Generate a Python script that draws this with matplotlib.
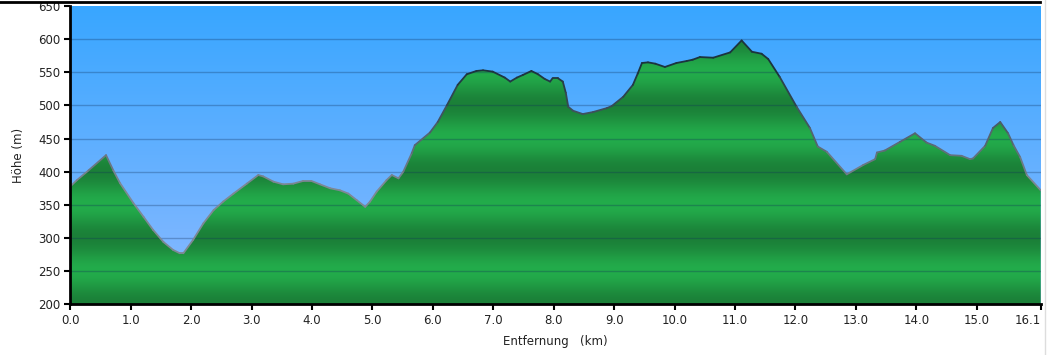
import numpy as np
import matplotlib
matplotlib.use("Agg")
import matplotlib.pyplot as plt
from matplotlib.patches import Polygon
from matplotlib.collections import LineCollection
from matplotlib.lines import Line2D

# ---- data ----
distance_km = [0.0, 0.104, 0.30, 0.59, 0.71, 0.82, 1.04, 1.21, 1.37, 1.54, 1.70, 1.81, 1.87,
               2.03, 2.20, 2.37, 2.53, 2.70, 2.92, 3.11, 3.19, 3.36, 3.52, 3.69, 3.85, 3.99,
               4.13, 4.30, 4.46, 4.60, 4.74, 4.88, 4.96, 5.07, 5.23, 5.32, 5.43, 5.51, 5.65,
               5.70, 5.95, 6.08, 6.23, 6.41, 6.56, 6.72, 6.83, 6.99, 7.19, 7.28, 7.39, 7.49,
               7.63, 7.74, 7.85, 7.94, 7.98, 8.07, 8.15, 8.20, 8.24, 8.32, 8.48, 8.65, 8.88,
               8.96, 9.15, 9.31, 9.39, 9.46, 9.56, 9.68, 9.84, 10.03, 10.20, 10.30, 10.42,
               10.64, 10.92, 11.11, 11.28, 11.44, 11.55, 11.74, 12.02, 12.24, 12.37, 12.52,
               12.85, 13.12, 13.32, 13.35, 13.48, 13.73, 13.98, 14.17, 14.31, 14.56, 14.75,
               14.89, 14.94, 15.14, 15.27, 15.39, 15.52, 15.61, 15.72, 15.83, 16.06]
elevation_m = [378, 387, 402, 425, 402, 383, 353, 332, 312, 294, 282, 277, 277,
               297, 322, 342, 355, 367, 382, 395, 393, 385, 381, 382, 386, 386,
               381, 375, 372, 367, 357, 347, 355, 370, 387, 395, 390, 400, 428,
               440, 459, 475, 500, 531, 547, 552, 553, 551, 542, 536, 542, 546,
               552, 547, 540, 536, 541, 541, 536, 519, 498, 492, 487, 490, 496,
               499, 513, 531, 548, 564, 565, 563, 558, 564, 567, 569, 573,
               572, 580, 598, 581, 578, 570, 543, 498, 466, 438, 430,
               396, 410, 419, 429, 432, 445, 458, 444, 439, 425, 424,
               419, 420, 439, 466, 475, 458, 440, 422, 395, 372]
y_ticks = [200, 250, 300, 350, 400, 450, 500, 550, 600, 650]
x_ticks = [0, 1, 2, 3, 4, 5, 6, 7, 8, 9, 10, 11, 12, 13, 14, 15, 16.06]
x_tick_labels = ["0.0", "1.0", "2.0", "3.0", "4.0", "5.0", "6.0", "7.0", "8.0", "9.0",
                 "10.0", "11.0", "12.0", "13.0", "14.0", "15.0", "16.1"]
x_label = "Entfernung   (km)"
y_label = "Höhe (m)"

x = np.array(distance_km)
h = np.array(elevation_m, dtype=float)
xmax = x_ticks[-1]
ymin, ymax = 200, 650

fig = plt.figure(figsize=(10.47, 3.55), dpi=100)
ax = fig.add_axes([70.4 / 1047, 1 - 304.3 / 355, (1040.7 - 70.4) / 1047, (304.3 - 6) / 355])
ax.set_xlim(0, xmax)
ax.set_ylim(ymin, ymax)

# sky gradient
ny = 300
t = np.linspace(0, 1, ny)[:, None]  # 0 bottom, 1 top
top = np.array([56, 166, 255]) / 255
bot = np.array([140, 186, 255]) / 255
sky = bot[None, :] * (1 - t) + top[None, :] * t
sky = np.repeat(sky[:, None, :], 2, axis=1)
ax.imshow(sky, extent=[0, xmax, ymin, ymax], origin="lower", aspect="auto", zorder=0,
          interpolation="bilinear")

# green banded gradient
hh = np.linspace(ymin, ymax, 900)
f = (1 + np.cos(2 * np.pi * (hh - 200) / 100)) / 2  # 1 dark, 0 light
light = np.array([35, 172, 75]) / 255
dark = np.array([27, 128, 56]) / 255
g = light[None, :] * (1 - f[:, None]) + dark[None, :] * f[:, None]
g = np.repeat(g[:, None, :], 2, axis=1)
im = ax.imshow(g, extent=[0, xmax, ymin, ymax], origin="lower", aspect="auto", zorder=1,
               interpolation="bilinear")
verts = [(x[0], ymin)] + list(zip(x, h)) + [(x[-1], ymin)]
poly = Polygon(verts, closed=True, facecolor="none", edgecolor="none", transform=ax.transData)
ax.add_patch(poly)
im.set_clip_path(poly)

# grid lines
for yv in y_ticks[1:-1]:
    ax.axhline(yv, color="#10305a", alpha=0.3, lw=1.0, zorder=2)

# outline with height-dependent colour
pts = np.column_stack([x, h])
segs = np.stack([pts[:-1], pts[1:]], axis=1)
mid = (h[:-1] + h[1:]) / 2
w = np.clip((mid - 380) / 170, 0, 1)[:, None]
c_low = np.array([125, 136, 148]) / 255
c_high = np.array([28, 52, 62]) / 255
cols = c_low * (1 - w) + c_high * w
lc = LineCollection(segs, colors=cols, linewidths=1.3, zorder=3, capstyle="round",
                    joinstyle="round")
ax.add_collection(lc)

# axes styling
for s in ["top", "right"]:
    ax.spines[s].set_visible(False)
for s in ["left", "bottom"]:
    ax.spines[s].set_linewidth(2)
    ax.spines[s].set_color("black")
    ax.spines[s].set_zorder(5)
ax.set_yticks(y_ticks)
ax.set_xticks(x_ticks)
ax.set_xticklabels(x_tick_labels)
ax.tick_params(axis="both", direction="out", length=4, width=1.5, color="black",
               labelsize=8.5, labelcolor="#222222", pad=3)
ax.get_xticklabels()[-1].set_horizontalalignment("right")
ax.set_xlabel(x_label, fontsize=8.5, color="#222222", labelpad=6)
ax.set_ylabel(y_label, fontsize=8.5, color="#222222", labelpad=10)

# frame lines of the screenshot
fig.add_artist(Line2D([0, 1040 / 1047], [1 - 1.5 / 355, 1 - 1.5 / 355], color="black", lw=2,
                      transform=fig.transFigure))
fig.add_artist(Line2D([1045 / 1047, 1045 / 1047], [0, 1], color="#dddddd", lw=1,
                      transform=fig.transFigure))

fig.savefig("out.png", dpi=100)
